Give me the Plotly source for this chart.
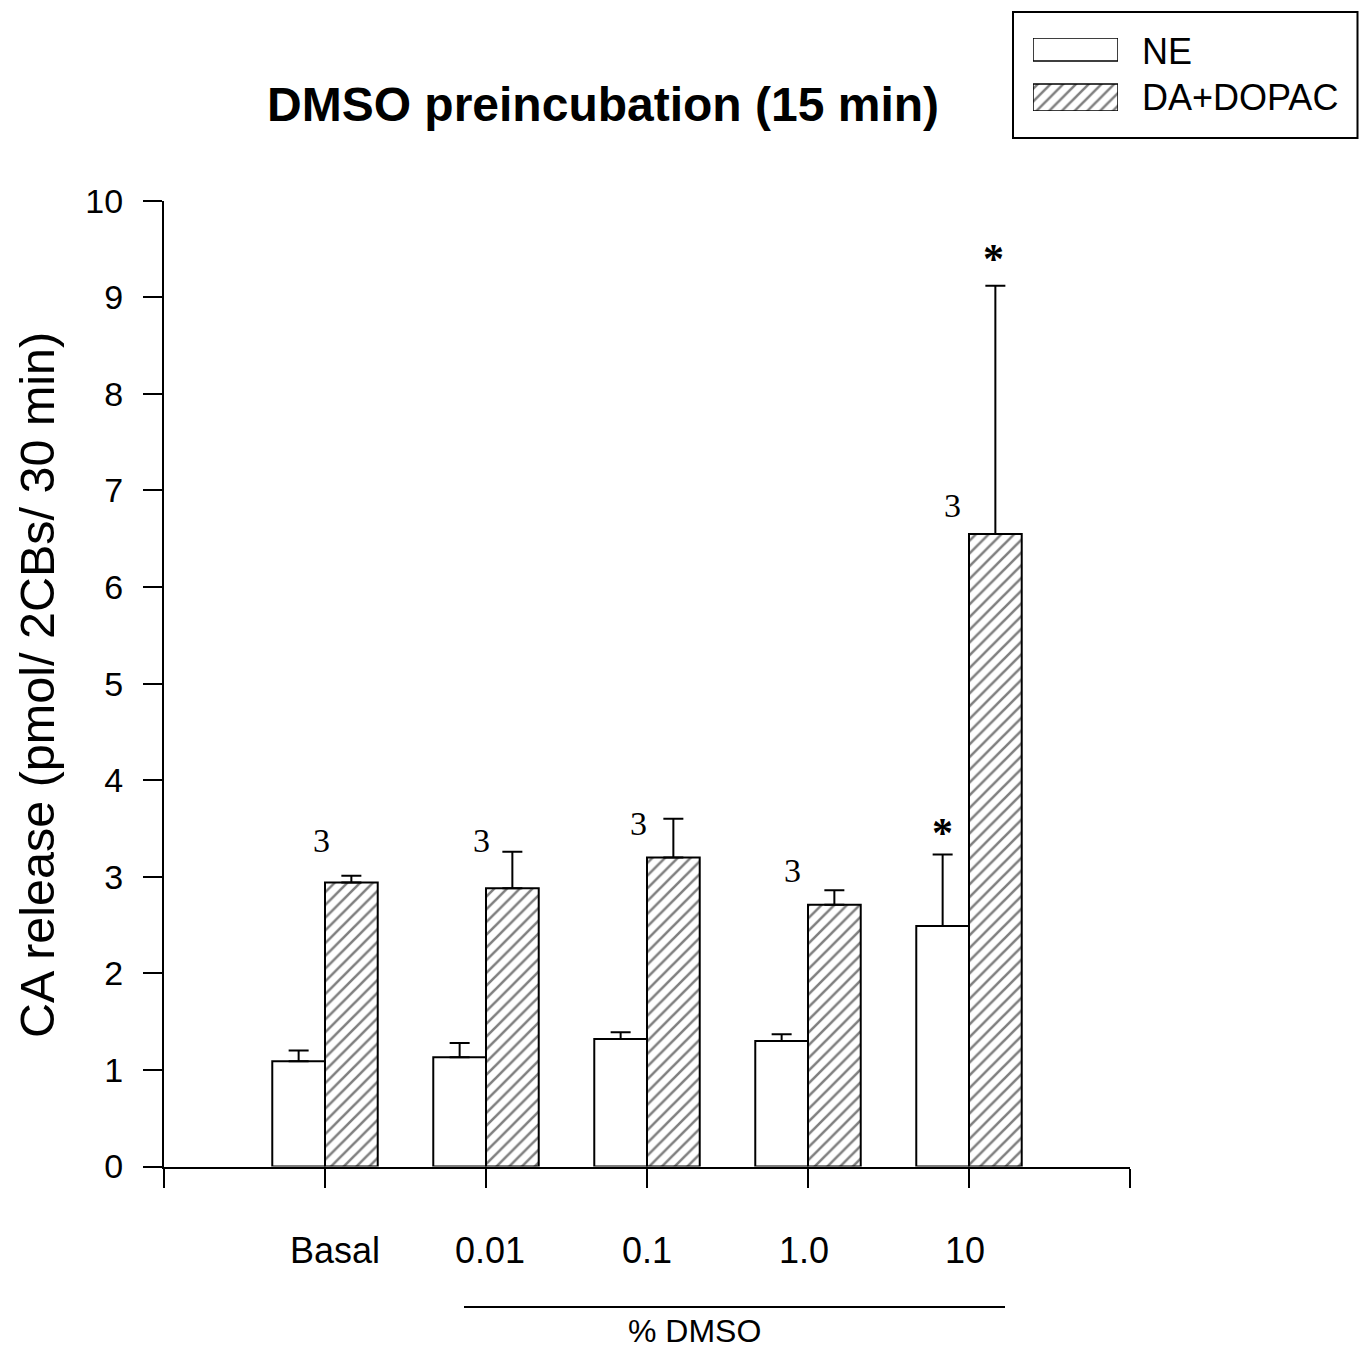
import plotly.graph_objects as go

# Categories and measured release values (pmol / 2CBs / 30 min)
groups = ["Basal", "0.01", "0.1", "1.0", "10"]
group_pos = [1, 2, 3, 4, 5]
ne_mean = [1.09, 1.13, 1.32, 1.30, 2.49]
ne_sem = [0.11, 0.15, 0.07, 0.07, 0.74]
da_mean = [2.94, 2.88, 3.20, 2.71, 6.55]
da_sem = [0.07, 0.38, 0.40, 0.15, 2.57]

# n per group and significance markers
n_labels = ["3", "3", "3", "3", "3"]
n_label_x = [0.98, 1.975, 2.945, 3.905, 4.895]
n_label_y = [3.38, 3.38, 3.55, 3.07, 6.84]
star_x = [4.835, 5.155]
star_y = [3.45, 9.40]

x_label_x = [1.062, 2.025, 3.0, 3.975, 4.975]

SANS = "Liberation Sans, Arial, Helvetica, sans-serif"
SERIF = "Liberation Serif, Times New Roman, serif"
W, H = 1359, 1349

HATCH = dict(fgcolor="black", bgcolor="white", size=9, solidity=0.28)


def px_y(py):
    """Convert a pixel row (from the top) to a paper y fraction."""
    return (H - py) / H


def px_x(px):
    return px / W


fig = go.Figure()

fig.add_trace(go.Bar(
    x=group_pos, y=ne_mean, name="NE",
    marker=dict(color="white", line=dict(color="black", width=2)),
    error_y=dict(type="data", array=ne_sem, arrayminus=[0] * len(ne_sem),
                 symmetric=False, color="black", thickness=2, width=10),
    showlegend=False,
))
fig.add_trace(go.Bar(
    x=group_pos, y=da_mean, name="DA+DOPAC",
    marker=dict(color="white", line=dict(color="black", width=2),
                pattern=dict(shape="/", **HATCH)),
    error_y=dict(type="data", array=da_sem, arrayminus=[0] * len(da_sem),
                 symmetric=False, color="black", thickness=2, width=10),
    showlegend=False,
))

# Legend swatches drawn on a small hidden axis pair
fig.add_trace(go.Bar(
    x=[1, 1], y=[0.842, 0.185], width=[0.315, 0.37], orientation="h",
    xaxis="x3", yaxis="y3", showlegend=False, hoverinfo="skip",
    marker=dict(color="white", line=dict(color="black", width=1.5),
                pattern=dict(shape=["", "/"], **HATCH)),
))

annotations = []
for xv, yv, t in zip(n_label_x, n_label_y, n_labels):
    annotations.append(dict(x=xv, y=yv, xref="x", yref="y", text=t, showarrow=False,
                            xanchor="center", yanchor="middle",
                            font=dict(family=SERIF, size=34, color="black")))
for xv, yv in zip(star_x, star_y):
    annotations.append(dict(x=xv, y=yv, xref="x", yref="y", text="<b>*</b>", showarrow=False,
                            xanchor="center", yanchor="middle",
                            font=dict(family=SERIF, size=42, color="black")))
for xv, t in zip(x_label_x, groups):
    annotations.append(dict(x=xv, y=px_y(1250), xref="x", yref="paper", text=t,
                            showarrow=False, xanchor="center", yanchor="middle",
                            font=dict(family=SANS, size=36, color="black")))

annotations += [
    dict(x=px_x(603), y=px_y(105), xref="paper", yref="paper",
         xanchor="center", yanchor="middle",
         text="<b>DMSO preincubation (15 min)</b>", showarrow=False,
         font=dict(family=SANS, size=48, color="black")),
    dict(x=px_x(37), y=px_y(685), xref="paper", yref="paper",
         xanchor="center", yanchor="middle",
         text="CA release (pmol/ 2CBs/ 30 min)", showarrow=False, textangle=-90,
         font=dict(family=SANS, size=48.5, color="black")),
    dict(x=px_x(694), y=px_y(1331), xref="paper", yref="paper",
         xanchor="center", yanchor="middle",
         text="% DMSO", showarrow=False,
         font=dict(family=SANS, size=32, color="black")),
    dict(x=px_x(1140), y=px_y(52), xref="paper", yref="paper",
         xanchor="left", yanchor="middle",
         text="NE", showarrow=False, font=dict(family=SANS, size=36, color="black")),
    dict(x=px_x(1140), y=px_y(98), xref="paper", yref="paper",
         xanchor="left", yanchor="middle",
         text="DA+DOPAC", showarrow=False, font=dict(family=SANS, size=36, color="black")),
]

shapes = [
    # legend frame
    dict(type="rect", xref="paper", yref="paper",
         x0=px_x(1013), x1=px_x(1357.5), y0=px_y(138), y1=px_y(12),
         line=dict(color="black", width=2), fillcolor="rgba(0,0,0,0)"),
    # bracket line under the DMSO concentrations
    dict(type="line", xref="paper", yref="paper",
         x0=px_x(464), x1=px_x(1005), y0=px_y(1307), y1=px_y(1307),
         line=dict(color="black", width=2)),
]

fig.update_layout(
    width=W, height=H,
    margin=dict(l=0, r=0, t=0, b=0, pad=0, autoexpand=False),
    paper_bgcolor="white", plot_bgcolor="white",
    barmode="group", bargap=0.345, bargroupgap=0,
    font=dict(family=SANS, color="black"),
    annotations=annotations, shapes=shapes,
    xaxis=dict(domain=[px_x(164), px_x(1130)], range=[0, 6], automargin=False,
               tickvals=[0, 1, 2, 3, 4, 5, 6], ticktext=[""] * 7,
               ticks="outside", ticklen=19, tickwidth=2, tickcolor="black",
               showline=True, linecolor="black", linewidth=2,
               showgrid=False, zeroline=False),
    yaxis=dict(domain=[px_y(1166.5), px_y(200.7)], range=[0, 10], automargin=False,
               tickvals=list(range(0, 11)),
               ticks="outside", ticklen=19, tickwidth=2, tickcolor="black",
               ticklabelstandoff=13,
               tickfont=dict(family=SANS, size=34, color="black"),
               showline=True, linecolor="black", linewidth=2,
               showgrid=False, zeroline=False),
    xaxis3=dict(domain=[px_x(1033), px_x(1118)], range=[0, 1], visible=False,
                anchor="y3", fixedrange=True, automargin=False),
    yaxis3=dict(domain=[px_y(111), px_y(38)], range=[0, 1], visible=False,
                anchor="x3", fixedrange=True, automargin=False),
)

fig.write_html("out.html")
